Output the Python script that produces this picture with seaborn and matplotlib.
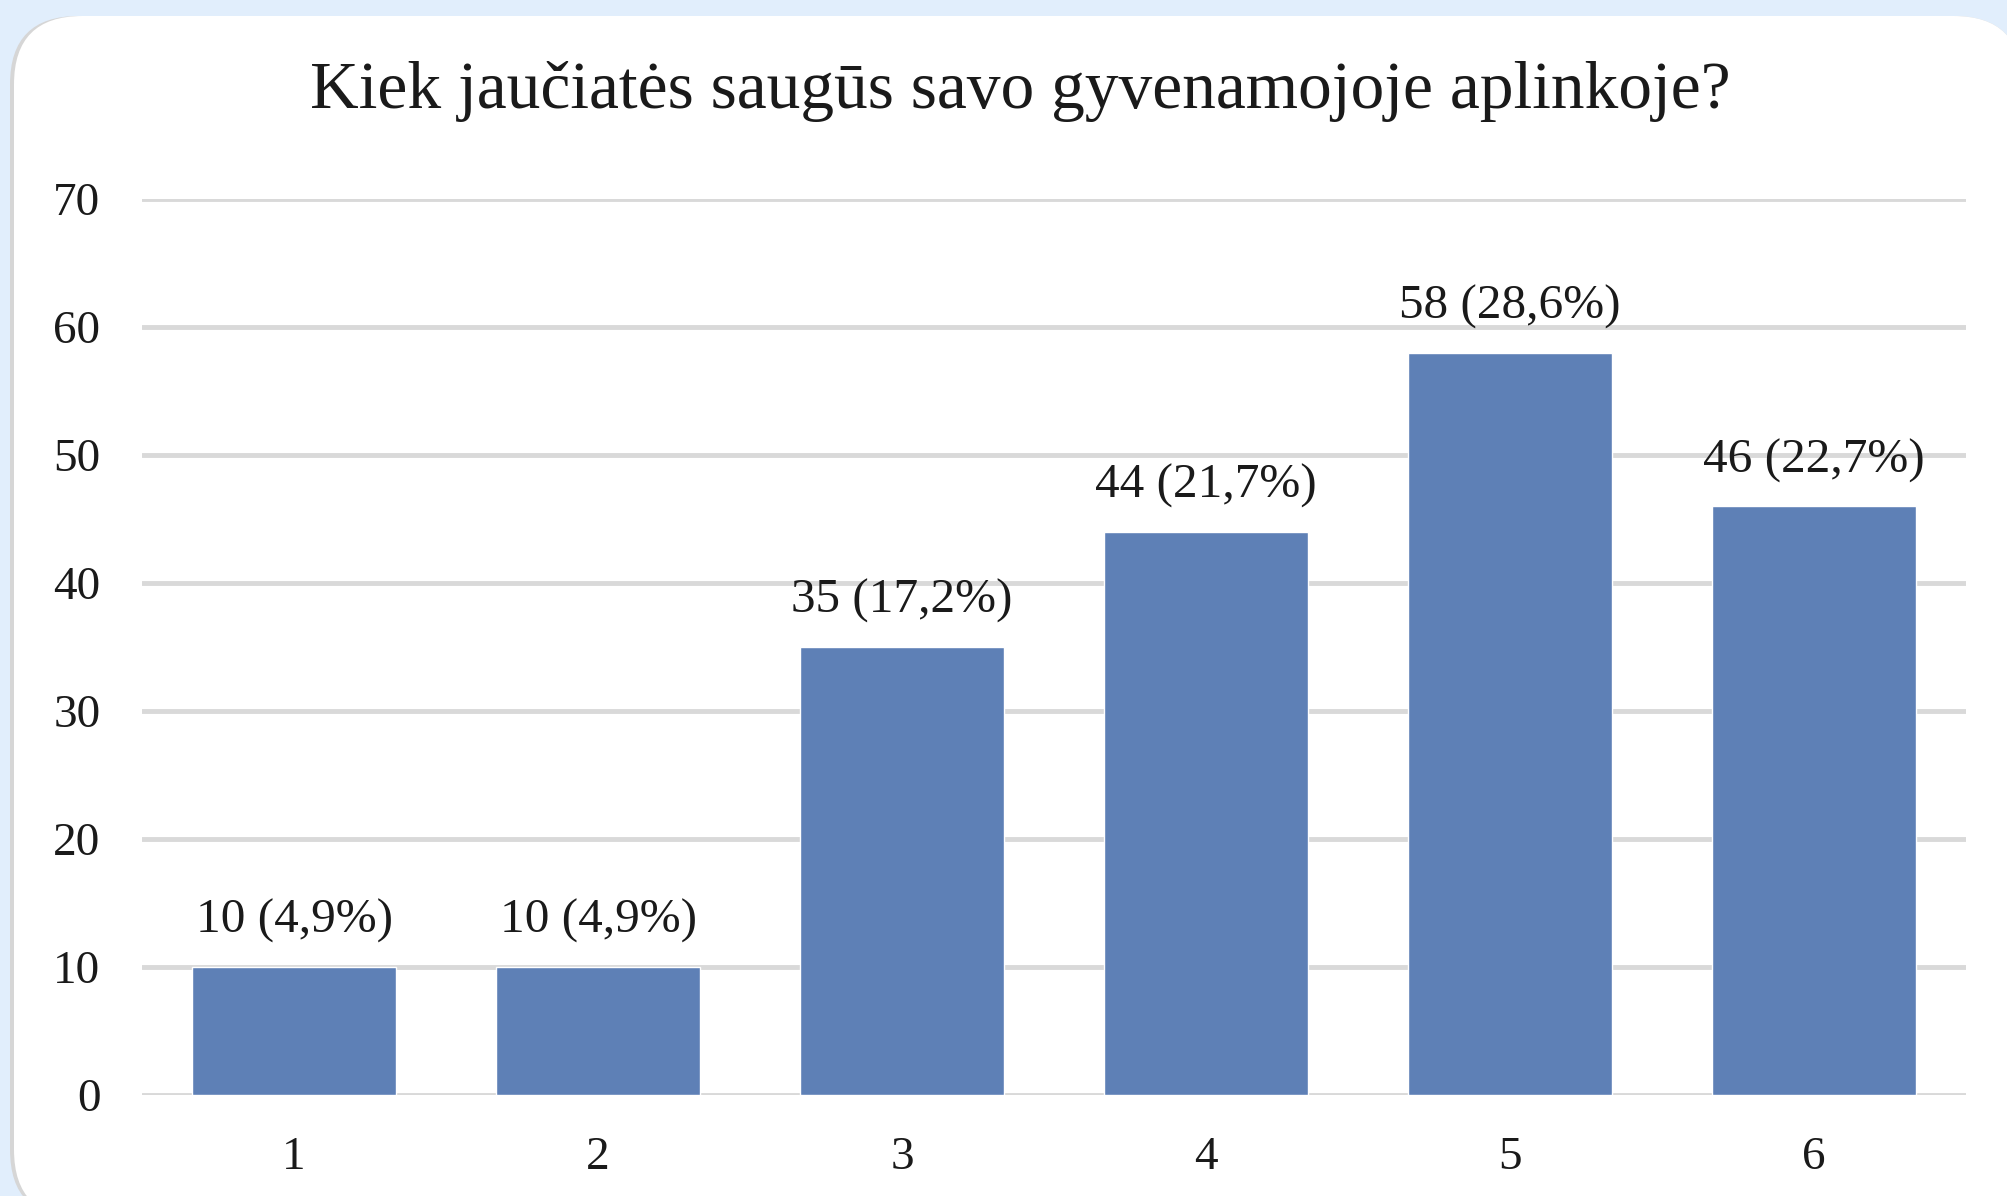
import matplotlib
matplotlib.use('Agg')
import matplotlib.pyplot as plt
import seaborn as sns
import pandas as pd
from matplotlib.patches import FancyBboxPatch

# Survey answers (scale 1-6), counts and shares
categories = ['1', '2', '3', '4', '5', '6']
counts = [10, 10, 35, 44, 58, 46]
shares = ['4,9%', '4,9%', '17,2%', '21,7%', '28,6%', '22,7%']
y_ticks = [0, 10, 20, 30, 40, 50, 60, 70]
title = 'Kiek jaučiatės saugūs savo gyvenamojoje aplinkoje?'

df = pd.DataFrame({'answer': categories, 'count': counts})
labels = [f'{c} ({s})' for c, s in zip(counts, shares)]

sns.set_theme(style='white')
plt.rcParams['font.family'] = ['Liberation Serif', 'DejaVu Serif']

W, H = 2008, 1196
fig = plt.figure(figsize=(W / 100, H / 100), dpi=100)
fig.patch.set_facecolor('#E1EEFC')

# white rounded card (with a faint grey shadow on the left)
for x0, col in [(10, '#D6D6D6'), (14, 'white')]:
    card = FancyBboxPatch((x0 / W, -22 / H), (W + 14 - x0) / W, (H + 22 - 16) / H,
                          boxstyle='round,pad=0,rounding_size=0.034',
                          transform=fig.transFigure, facecolor=col,
                          edgecolor='none', zorder=-2,
                          mutation_aspect=W / H)
    fig.patches.append(card)

ax = fig.add_axes([142 / W, 1 - 1095 / H, 1824 / W, 896 / H])
ax.set_facecolor('none')
sns.barplot(data=df, x='answer', y='count', color='#5E80B6', width=0.67,
            saturation=1, ax=ax, zorder=3)

ax.bar_label(ax.containers[0], labels=labels, padding=17, fontsize=35.5,
             color='#1a1a1a')

ax.set_ylim(0, 70)
ax.set_xlim(-0.5, 5.5)
ax.set_yticks(y_ticks)
ax.yaxis.grid(True, color='#D9D9D9', linewidth=3.5, zorder=0)
ax.set_axisbelow(True)
for s in ax.spines.values():
    s.set_visible(False)
ax.tick_params(axis='both', length=0, labelsize=34, colors='#1a1a1a')
ax.tick_params(axis='y', pad=30)
ax.tick_params(axis='x', pad=30)
ax.set_xlabel('')
ax.set_ylabel('')

fig.text(0.508, 1 - 92 / H, title, ha='center', va='center',
         fontsize=48.5, color='#1a1a1a')

fig.savefig('out.png', dpi=100, facecolor=fig.get_facecolor())
